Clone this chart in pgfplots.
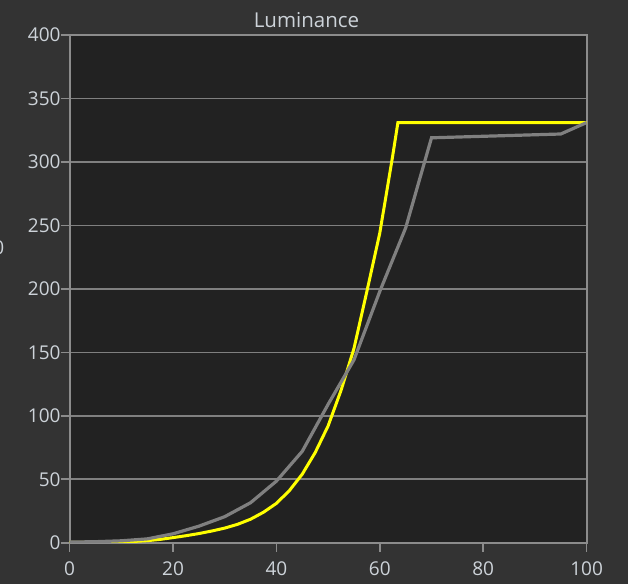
\documentclass[border=0pt]{standalone}
\usepackage{fontspec}
\setmainfont{Open Sans}
\usepackage{pgfplots}
\pgfplotsset{compat=1.18}

\definecolor{outerbg}{HTML}{333333}
\definecolor{plotbg}{HTML}{222222}
\definecolor{gridc}{HTML}{808080}
\definecolor{axc}{HTML}{8C8C8C}
\definecolor{txt}{HTML}{CDD3D9}
\definecolor{refline}{HTML}{808080}
\definecolor{meas}{HTML}{FFFF00}

\begin{document}
\begin{tikzpicture}[x=1pt,y=1pt]
\useasboundingbox[fill=outerbg] (0,0) rectangle (628,584);

\begin{axis}[
    at={(69.6pt,41.3pt)}, anchor=south west,
    scale only axis,
    width=517pt, height=507.7pt,
    xmin=0, xmax=100,
    ymin=0, ymax=400,
    xtick={0,20,...,100},
    ytick={0,50,...,400},
    xtick pos=bottom, ytick pos=left,
    tick align=outside,
    major tick length=9pt,
    ymajorgrids=true,
    grid style={draw=gridc, line width=1.6pt},
    axis line style={draw=axc, line width=1.8pt},
    tick style={draw=axc, line width=1.6pt},
    axis background/.style={fill=plotbg},
    /pgf/number format/assume math mode=true,
    ticklabel style={font=\fontsize{19}{21}\selectfont, text=txt},
    yticklabel style={xshift=3.5pt},
    xticklabel style={yshift=-6pt},
]

% measured (yellow)
\addplot[meas, line width=3pt] coordinates {
    (0,0.3)(2.5,0.3)(5,0.4)(7.5,0.5)(10,0.7)(12.5,1)(15,1.6)(17.5,2.6)
    (20,4)(22.5,5.5)(25,7.2)(27.5,9.2)(30,11.5)(32.5,14.5)(35,18.5)
    (37.5,24)(40,31)(42.5,41)(45,54)(47.5,71)(50,92)(52.5,120)(55,153)
    (57.5,198)(60,244)(62.5,305)(63.5,331)(100,331)
};

% reference (grey)
\addplot[refline, line width=3.2pt] coordinates {
    (0,0.5)(5,0.8)(10,1.5)(15,3)(20,7)(25,13)(30,20.5)(35,31.5)(40,48.5)
    (45,72)(50,109)(55,144)(60,198)(65,248)(70,319)(75,319.6)(80,320.2)
    (85,320.8)(90,321.4)(95,322)(100,331)
};

\end{axis}

\node[anchor=base, text=txt, font=\fontsize{20.5}{22}\selectfont, inner sep=0pt] at (306.5,556) {Luminance};
\node[anchor=base east, text=txt, font=\fontsize{19}{21}\selectfont, inner sep=0pt] at (4.5,329) {0};
\end{tikzpicture}
\end{document}
